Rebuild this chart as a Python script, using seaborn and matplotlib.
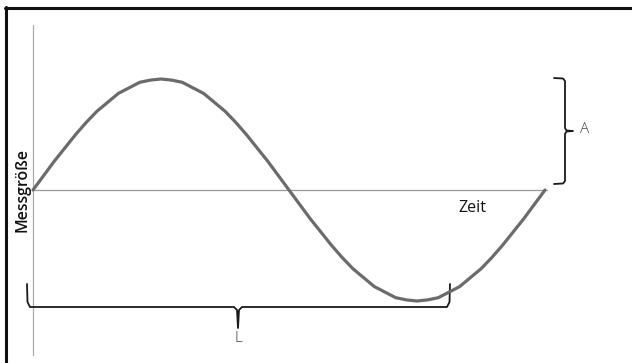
import numpy as np
import pandas as pd
import matplotlib
matplotlib.use("Agg")
import matplotlib.pyplot as plt
from matplotlib.lines import Line2D
import seaborn as sns

# ---- data: one period of the wave, values every 7.5 degrees ----
zeit = [i / 48 for i in range(49)]
messgroesse = [0.00, 0.13, 0.26, 0.38, 0.50, 0.61, 0.71, 0.79, 0.87, 0.92, 0.97, 0.99,
               1.00, 0.99, 0.97, 0.92, 0.87, 0.79, 0.71, 0.61, 0.50, 0.38, 0.26, 0.13,
               0.00, -0.13, -0.26, -0.38, -0.50, -0.61, -0.71, -0.79, -0.87, -0.92, -0.97, -0.99,
               -1.00, -0.99, -0.97, -0.92, -0.87, -0.79, -0.71, -0.61, -0.50, -0.38, -0.26, -0.13,
               0.00]
x_label = "Zeit"
y_label = "Messgröße"
amp_label = "A"
len_label = "L"

df = pd.DataFrame({"Zeit": zeit, "Messgröße": messgroesse})

sns.set_style("white")
plt.rcParams['font.family'] = ['Open Sans', 'DejaVu Sans']

W, H = 632, 363
fig = plt.figure(figsize=(W / 100, H / 100), dpi=100)
ax = fig.add_axes([0, 0, 1, 1])

# pixel layout of the reference: t=0 at x=33, t=1 at x=545; a=0 at y=190, a=1 at y=79
X0, XS = 33.0, 512.0
Y0, YS = 190.0, 111.0
ax.set_xlim(-X0 / XS, (W - X0) / XS)
ax.set_ylim((Y0 - H) / YS, Y0 / YS)
ax.axis("off")

def dx(px):
    return (px - X0) / XS

def dy(py):
    return (Y0 - py) / YS

# axes lines
ax.plot([dx(33), dx(33)], [dy(25), dy(355)], color="#aaaaaa", lw=0.9, zorder=1)
ax.plot([dx(33), dx(547)], [0, 0], color="#999999", lw=0.9, zorder=1)

# the wave
sns.lineplot(data=df, x="Zeit", y="Messgröße", ax=ax, color="#6b6b6b", lw=2.3,
             zorder=3, legend=False, solid_joinstyle="round", solid_capstyle="round")
ax.set_xlabel("")
ax.set_ylabel("")

# right brace (amplitude)
rb = [(554, 78), (563, 78.5), (565, 81), (565, 128), (566.5, 130.5), (573, 131),
      (566.5, 131.5), (565, 134), (565, 181), (563, 183.5), (554, 184)]
ax.plot([dx(p[0]) for p in rb], [dy(p[1]) for p in rb], color="#1a1a1a", lw=1.3,
        solid_joinstyle="round", zorder=2)

# bottom brace (length)
bb = [(27, 284), (27.5, 302), (30, 307), (234, 307), (237, 310), (238, 328),
      (239, 310), (242, 307), (447, 307), (449.5, 302), (450, 284)]
ax.plot([dx(p[0]) for p in bb], [dy(p[1]) for p in bb], color="#1a1a1a", lw=1.3,
        solid_joinstyle="round", zorder=2)

# texts
ax.text(dx(472), dy(208), x_label, fontsize=11.5, color="#111111", ha="center", va="center")
ax.text(dx(22), dy(190), y_label, fontsize=11.5, color="#111111", ha="center", va="center",
        rotation=90, fontweight="semibold")
ax.text(dx(585), dy(130), amp_label, fontsize=11, color="#444444", ha="center", va="center",
        fontweight="light")
ax.text(dx(238), dy(338), len_label, fontsize=11, color="#444444", ha="center", va="center",
        fontweight="light")

# frame: only top and left edges visible
fig.add_artist(Line2D([5 / W, 1.0], [1 - 8 / H, 1 - 8 / H], transform=fig.transFigure,
                      color="#111111", lw=2.2))
fig.add_artist(Line2D([6 / W, 6 / W], [0, 1 - 7 / H], transform=fig.transFigure,
                      color="#111111", lw=2.2))

fig.savefig("out.png", dpi=100, facecolor="white")
